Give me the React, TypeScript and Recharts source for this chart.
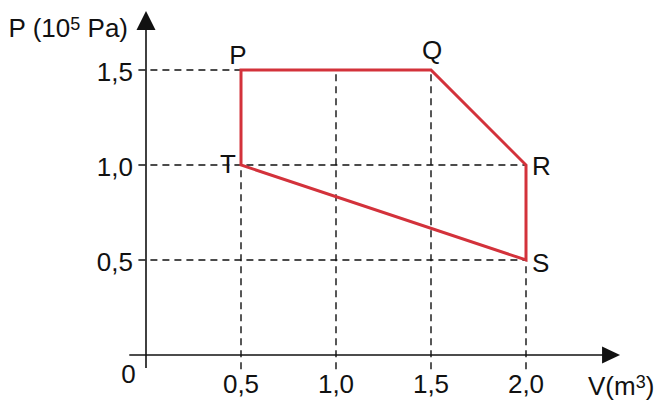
import React from 'react';
import { LineChart, Line, XAxis, YAxis, ReferenceLine } from 'recharts';

// State points of the cycle P -> Q -> R -> S -> T -> P
const pointNames = ['P', 'Q', 'R', 'S', 'T', 'P'];
const volumes = [0.5, 1.5, 2.0, 2.0, 0.5, 0.5];
const pressures = [1.5, 1.5, 1.0, 0.5, 1.0, 1.5];

const xTicks = [0, 0.5, 1.0, 1.5, 2.0];
const yTicks = [0.5, 1.0, 1.5];

// dashed guides: vertical ones (at volume, up to pressure), horizontal ones (at pressure, up to volume)
const vGuideX = [0.5, 1.0, 1.5, 2.0];
const vGuideTop = [1.5, 1.5, 1.5, 1.0];
const hGuideY = [1.5, 1.0, 0.5];
const hGuideRight = [0.5, 2.0, 2.0];

const data = pointNames.map((name, i) => ({ name, v: volumes[i], p: pressures[i] }));

const FONT = '"Liberation Sans", Arial, Helvetica, sans-serif';
const RED = '#d3323b';
const FS = 26;
const SUP = 18;

const fmt = (n: number) => (n === 0 ? '0' : n.toFixed(1).replace('.', ','));

const labelOffsets: Record<string, [number, number, string]> = {
  P: [-3, -6, 'middle'],
  Q: [1, -11, 'middle'],
  R: [6, 10, 'start'],
  S: [6, 12, 'start'],
  T: [-5, 8, 'end'],
};

const PointLabel = (props: any) => {
  const { x, y, index } = props;
  if (index === pointNames.length - 1) return null;
  const name = pointNames[index];
  const [dx, dy, anchor] = labelOffsets[name];
  return (
    <text x={x + dx} y={y + dy} textAnchor={anchor} fontSize={FS} fontFamily={FONT} fill="#111">
      {name}
    </text>
  );
};

const XTick = (props: any) => {
  const { x, y, payload } = props;
  const v = payload.value;
  if (v === 0) {
    return (
      <text x={x - 17.5} y={y + 28} textAnchor="middle" fontSize={FS} fontFamily={FONT} fill="#111">
        0
      </text>
    );
  }
  return (
    <text x={x} y={y + 38} textAnchor="middle" fontSize={FS} fontFamily={FONT} fill="#111">
      {fmt(v)}
    </text>
  );
};

const YTick = (props: any) => {
  const { x, y, payload } = props;
  return (
    <text x={x - 13} y={y + 11} textAnchor="end" fontSize={FS} fontFamily={FONT} fill="#111">
      {fmt(payload.value)}
    </text>
  );
};

const YTitle = (props: any) => {
  const vb = props.viewBox || {};
  return (
    <text x={vb.x + vb.width - 18} y={vb.y + 24} textAnchor="end" fontSize={FS} fontFamily={FONT} fill="#111">
      P (10
      <tspan dy={-7} fontSize={SUP}>5</tspan>
      <tspan dy={7}> Pa)</tspan>
    </text>
  );
};

const XTitle = (props: any) => {
  const vb = props.viewBox || {};
  return (
    <text x={vb.x + vb.width - 33} y={vb.y + 40} textAnchor="start" fontSize={FS} fontFamily={FONT} fill="#111">
      V(m
      <tspan dy={-7} fontSize={SUP}>3</tspan>
      <tspan dy={7}>)</tspan>
    </text>
  );
};

const XArrow = (props: any) => {
  const { x1, y1, x2, y2 } = props;
  return (
    <g>
      <line x1={x1} y1={y1} x2={x2 - 12} y2={y2} stroke="#111" strokeWidth={1.6} />
      <polygon points={`${x2},${y2} ${x2 - 18},${y2 - 8.5} ${x2 - 18},${y2 + 8.5}`} fill="#111" />
    </g>
  );
};

const YArrow = (props: any) => {
  const { x1, y1, x2, y2 } = props;
  return (
    <g>
      <line x1={x1} y1={y1} x2={x2} y2={y2 + 12} stroke="#111" strokeWidth={1.6} />
      <polygon points={`${x2},${y2} ${x2 - 9.5},${y2 + 19} ${x2 + 9.5},${y2 + 19}`} fill="#111" />
    </g>
  );
};

export default function App() {
  return (
    <div style={{ position: 'absolute', left: 0, top: 0, background: '#fff' }}>
      <LineChart width={663} height={410} data={data} margin={{ top: 13, right: 42, bottom: 0, left: 86 }}>
        <XAxis
          type="number"
          dataKey="v"
          domain={[0, 2.5]}
          ticks={xTicks}
          interval={0}
          axisLine={false}
          tickLine={false}
          tickSize={0}
          tickMargin={0}
          height={55}
          tick={<XTick />}
          label={{ content: <XTitle /> }}
          allowDataOverflow
        />
        <YAxis
          type="number"
          dataKey="p"
          domain={[0, 1.8]}
          ticks={yTicks}
          interval={0}
          axisLine={false}
          tickLine={false}
          tickSize={0}
          tickMargin={0}
          width={60}
          tick={<YTick />}
          label={{ content: <YTitle /> }}
          allowDataOverflow
        />
        {vGuideX.map((gx, i) => (
          <ReferenceLine
            key={`v${i}`}
            segment={[{ x: gx, y: -0.075 }, { x: gx, y: vGuideTop[i] }]}
            stroke="#111"
            strokeWidth={1.4}
            strokeDasharray="7 5"
            ifOverflow="visible"
          />
        ))}
        {hGuideY.map((gy, i) => (
          <ReferenceLine
            key={`h${i}`}
            segment={[{ x: -0.04, y: gy }, { x: hGuideRight[i], y: gy }]}
            stroke="#111"
            strokeWidth={1.4}
            strokeDasharray="7 5"
            ifOverflow="visible"
          />
        ))}
        <ReferenceLine
          segment={[{ x: -0.088, y: 0 }, { x: 2.495, y: 0 }]}
          ifOverflow="visible"
          shape={<XArrow />}
        />
        <ReferenceLine
          segment={[{ x: 0, y: -0.068 }, { x: 0, y: 1.81 }]}
          ifOverflow="visible"
          shape={<YArrow />}
        />
        <Line
          type="linear"
          dataKey="p"
          stroke={RED}
          strokeWidth={3}
          strokeLinejoin="miter"
          strokeLinecap="square"
          dot={false}
          activeDot={false}
          isAnimationActive={false}
          label={<PointLabel />}
        />
      </LineChart>
    </div>
  );
}
